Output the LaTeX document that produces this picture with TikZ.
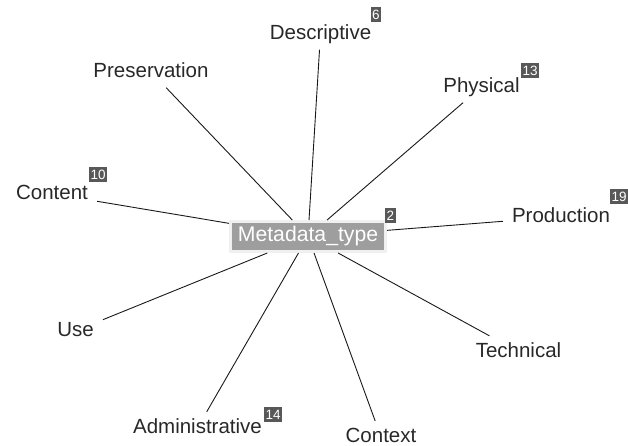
\documentclass[tikz,border=0pt]{standalone}
\usepackage{fontspec}
\setmainfont{Liberation Sans}
\definecolor{hubgray}{RGB}{158,158,158}
\definecolor{hubrim}{RGB}{240,240,240}
\definecolor{countgray}{RGB}{88,88,88}
\definecolor{leafink}{RGB}{40,40,40}
\definecolor{spokeink}{RGB}{25,25,25}

\begin{document}
\begin{tikzpicture}[x=1pt,y=-1pt,
    leaf/.style={text=leafink, inner xsep=9pt, inner ysep=6pt,
      text height=15pt, text depth=4.5pt, font=\fontsize{20.5}{24}\selectfont},
    hub/.style={fill=hubgray, draw=hubrim, line width=3pt, text=white,
      minimum width=155pt, minimum height=30pt, inner sep=0pt,
      font=\fontsize{21.2}{25}\selectfont},
    count/.style={fill=countgray, text=white, anchor=south west,
      inner xsep=1.5pt, inner ysep=0pt, minimum height=14.5pt,
      font=\fontsize{13.5}{14}\selectfont},
    spoke/.style={draw=spokeink, line width=0.9pt}]
  \useasboundingbox (0,0) rectangle (628,445);

  % outer terms
  \node[leaf] (desc)  at (320.5,33.75) {Descriptive};
  \node[leaf] (pres)  at (151,71.75)   {Preservation};
  \node[leaf] (phys)  at (481.5,86.75) {Physical};
  \node[leaf] (cont)  at (52,193.75)   {Content};
  \node[leaf] (prod)  at (561,216.75)  {Production};
  \node[leaf] (tech)  at (518.5,351.75){Technical};
  \node[leaf] (ctx)   at (381,437)     {Context};
  \node[leaf] (admin) at (197.5,427.75){Administrative};
  \node[leaf] (use)   at (75.5,330.75) {Use};

  % centre term
  \node[hub] (meta) at (308,236.5) {Metadata\_type};

  \foreach \n in {desc,pres,phys,cont,prod,tech,ctx,admin,use}
    \draw[spoke] (meta) -- (\n);

  % occurrence counts
  \node[count] (n-meta)  at (385,223) {2};
  \node[count] (n-desc)  at (370.5,22){6};
  \node[count] (n-phys)  at (521,78)  {13};
  \node[count] (n-cont)  at (89,182)  {10};
  \node[count] (n-prod)  at (610,204) {19};
  \node[count] (n-admin) at (264,422) {14};
\end{tikzpicture}
\end{document}
